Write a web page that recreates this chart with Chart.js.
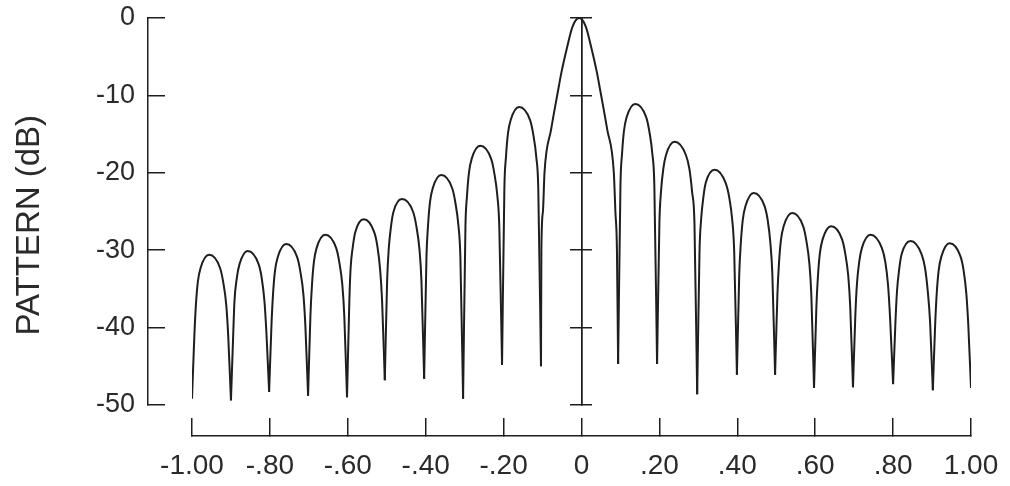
<!DOCTYPE html>
<html>
<head>
<meta charset="utf-8">
<script src="https://cdn.jsdelivr.net/npm/chart.js@4.4.1/dist/chart.umd.min.js"></script>
<style>
  html, body { margin: 0; padding: 0; background: #fff; }
  #wrap { width: 1010px; height: 486px; position: relative; }
</style>
</head>
<body>
<div id="wrap"><canvas id="patron"></canvas></div>
<script>
// u = sin(theta); nulls are the local minima
const u = [
  -1.000, -0.994, -0.990, -0.985, -0.978, -0.956, -0.928, -0.920, -0.912, -0.907,
  -0.900, -0.894, -0.891, -0.885, -0.878, -0.857, -0.829, -0.821, -0.814, -0.809,
  -0.802, -0.796, -0.792, -0.787, -0.780, -0.758, -0.730, -0.722, -0.714, -0.709,
  -0.702, -0.696, -0.692, -0.687, -0.680, -0.658, -0.630, -0.622, -0.614, -0.609,
  -0.602, -0.596, -0.593, -0.587, -0.581, -0.559, -0.532, -0.524, -0.517, -0.512,
  -0.505, -0.499, -0.495, -0.489, -0.483, -0.461, -0.432, -0.424, -0.416, -0.411,
  -0.404, -0.398, -0.394, -0.389, -0.382, -0.360, -0.332, -0.324, -0.316, -0.311,
  -0.304, -0.298, -0.294, -0.289, -0.282, -0.260, -0.232, -0.224, -0.216, -0.211,
  -0.204, -0.198, -0.194, -0.189, -0.182, -0.160, -0.132, -0.124, -0.116, -0.111,
  -0.104, -0.103, -0.099, -0.095, -0.078, -0.061, -0.051, -0.038, -0.023, -0.006,
  0.011, 0.026, 0.039, 0.049, 0.066, 0.083, 0.087, 0.091,
  0.094, 0.100, 0.104, 0.109, 0.116, 0.138, 0.166, 0.174, 0.182, 0.187,
  0.194, 0.200, 0.204, 0.210, 0.217, 0.239, 0.268, 0.277, 0.284, 0.290,
  0.297, 0.303, 0.307, 0.313, 0.319, 0.342, 0.370, 0.379, 0.387, 0.392,
  0.399, 0.405, 0.409, 0.414, 0.421, 0.442, 0.470, 0.478, 0.485, 0.490,
  0.497, 0.503, 0.507, 0.512, 0.519, 0.541, 0.569, 0.577, 0.585, 0.590,
  0.597, 0.603, 0.607, 0.612, 0.619, 0.641, 0.669, 0.677, 0.685, 0.690,
  0.697, 0.703, 0.707, 0.713, 0.720, 0.742, 0.771, 0.780, 0.787, 0.792,
  0.800, 0.806, 0.810, 0.816, 0.822, 0.845, 0.873, 0.882, 0.889, 0.895,
  0.902, 0.908, 0.912, 0.917, 0.924, 0.945, 0.973, 0.981, 0.988, 0.993,
  1.000
];
// pattern in dB at the same points
const pattern = [
  -49.2, -41.1, -37.1, -34.1, -32.3, -30.6, -32.3, -34.1, -37.1, -41.1,
  -49.4, -40.6, -36.6, -33.6, -31.8, -30.1, -31.8, -33.6, -36.6, -40.6,
  -48.3, -39.7, -35.7, -32.7, -30.9, -29.2, -30.9, -32.7, -35.7, -39.7,
  -48.8, -38.5, -34.5, -31.5, -29.7, -28.0, -29.7, -31.5, -34.5, -38.5,
  -49.0, -36.5, -32.5, -29.5, -27.7, -26.0, -27.7, -29.5, -32.5, -36.5,
  -46.8, -33.9, -29.9, -26.9, -25.1, -23.4, -25.1, -26.9, -29.9, -33.9,
  -46.6, -30.8, -26.8, -23.8, -22.0, -20.3, -22.0, -23.8, -26.8, -30.8,
  -49.2, -27.0, -23.0, -20.0, -18.2, -16.5, -18.2, -20.0, -23.0, -27.0,
  -44.8, -22.0, -18.0, -15.0, -13.2, -11.5, -13.2, -15.0, -18.0, -22.0,
  -45.0, -30.0, -25.0, -20.0, -14.4, -9.6, -6.9, -4.0, -1.1, 0.0,
  -1.1, -4.0, -6.9, -9.6, -14.4, -20.0, -25.0, -30.0,
  -44.7, -21.6, -17.6, -14.6, -12.8, -11.1, -12.8, -14.6, -17.6, -21.6,
  -44.7, -26.5, -22.5, -19.5, -17.7, -16.0, -17.7, -19.5, -22.5, -26.5,
  -48.6, -30.1, -26.1, -23.1, -21.3, -19.6, -21.3, -23.1, -26.1, -30.1,
  -46.1, -33.1, -29.1, -26.1, -24.3, -22.6, -24.3, -26.1, -29.1, -33.1,
  -46.1, -35.7, -31.7, -28.7, -26.9, -25.2, -26.9, -28.7, -31.7, -35.7,
  -47.8, -37.4, -33.4, -30.4, -28.6, -26.9, -28.6, -30.4, -33.4, -37.4,
  -47.7, -38.5, -34.5, -31.5, -29.7, -28.0, -29.7, -31.5, -34.5, -38.5,
  -47.3, -39.3, -35.3, -32.3, -30.5, -28.8, -30.5, -32.3, -35.3, -39.3,
  -48.1, -39.6, -35.6, -32.6, -30.8, -29.1, -30.8, -32.6, -35.6, -39.6,
  -47.8
];

const xTicks = [-1, -0.8, -0.6, -0.4, -0.2, 0, 0.2, 0.4, 0.6, 0.8, 1];
const xTickLabels = ['-1.00', '-.80', '-.60', '-.40', '-.20', '0', '.20', '.40', '.60', '.80', '1.00'];
const yTicks = [0, -10, -20, -30, -40, -50];
const yTickLabels = ['0', '-10', '-20', '-30', '-40', '-50'];

const INK = '#1e1e1e';
const TXT = '#2a2a2a';
const FONT = "'Liberation Sans', Arial, Helvetica, sans-serif";

// cortar la curva en lóbulos (cada nulo cierra uno y abre el siguiente)
const lobulos = [];
let actual = [];
for (let i = 0; i < u.length; i++) {
  actual.push({ x: u[i], y: pattern[i] });
  const esNulo = i > 0 && i < u.length - 1 && pattern[i] < pattern[i - 1] && pattern[i] < pattern[i + 1];
  if (esNulo) {
    lobulos.push(actual);
    actual = [{ x: u[i], y: pattern[i] }];
  }
}
lobulos.push(actual);

const datasets = lobulos.map(d => ({
  data: d,
  borderColor: INK,
  borderWidth: 2,
  pointRadius: 0,
  fill: false,
  cubicInterpolationMode: 'monotone',
  xAxisID: 'x',
  yAxisID: 'y'
}));

const fijarTicks = lista => s => { s.ticks = lista.map(v => ({ value: v })); };
const oculto = { ticks: { display: false }, grid: { display: false }, border: { display: false } };

new Chart(document.getElementById('patron'), {
  type: 'line',
  data: { datasets },
  options: {
    responsive: true,
    maintainAspectRatio: false,
    animation: false,
    layout: { padding: { left: 0, right: 39, top: 18, bottom: 0 } },
    plugins: { legend: { display: false }, tooltip: { enabled: false } },
    scales: {
      // escalas de datos (invisibles, dejan el hueco entre curva y ejes)
      x: Object.assign({ type: 'linear', min: -1, max: 1, position: 'bottom', weight: 0,
        afterFit: s => { s.height = 31; } }, oculto),
      y: Object.assign({ type: 'linear', min: -50, max: 0, position: 'left', weight: 0,
        afterFit: s => { s.width = 44; } }, oculto),
      // eje horizontal visible
      xEje: {
        type: 'linear', axis: 'x', position: 'bottom', weight: 1, min: -1, max: 1,
        afterBuildTicks: fijarTicks(xTicks),
        afterFit: s => { s.height = 50; s.paddingLeft = 0; s.paddingRight = 0; },
        grid: { drawOnChartArea: false, tickLength: -18, color: INK, lineWidth: 1.5 },
        border: { color: INK, width: 1.5 },
        ticks: { padding: 31, color: TXT, font: { family: FONT, size: 28 },
          maxRotation: 0, autoSkip: false, callback: (v, i) => xTickLabels[i] }
      },
      // eje vertical visible
      yEje: {
        type: 'linear', axis: 'y', position: 'left', weight: 1, min: -50, max: 0,
        afterBuildTicks: fijarTicks(yTicks),
        afterFit: s => { s.width = 148; s.paddingTop = 0; s.paddingBottom = 0; },
        grid: { drawOnChartArea: false, tickLength: -17, color: INK, lineWidth: 1.5 },
        border: { color: INK, width: 1.5 },
        ticks: { padding: 30, color: TXT, font: { family: FONT, size: 27 },
          autoSkip: false, callback: (v, i) => yTickLabels[i] },
        title: { display: true, text: 'PATTERN (dB)\u00a0\u00a0\u00a0', color: TXT,
          font: { family: FONT, size: 33 }, padding: { top: 10, bottom: 0 } }
      },
      // eje central en u = 0, marcas a ambos lados
      yCentroIzq: {
        type: 'linear', axis: 'y', position: { x: 0 }, min: -50, max: 0,
        afterBuildTicks: fijarTicks(yTicks),
        grid: { drawOnChartArea: false, tickLength: 11, color: INK, lineWidth: 1.5 },
        border: { color: INK, width: 1.5 },
        ticks: { display: false }
      },
      yCentroDer: {
        type: 'linear', axis: 'y', position: { x: 0 }, min: -50, max: 0,
        afterBuildTicks: fijarTicks(yTicks),
        grid: { drawOnChartArea: false, tickLength: -11, color: INK, lineWidth: 1.5 },
        border: { color: INK, width: 1.5 },
        ticks: { display: false }
      }
    }
  }
});
</script>
</body>
</html>
